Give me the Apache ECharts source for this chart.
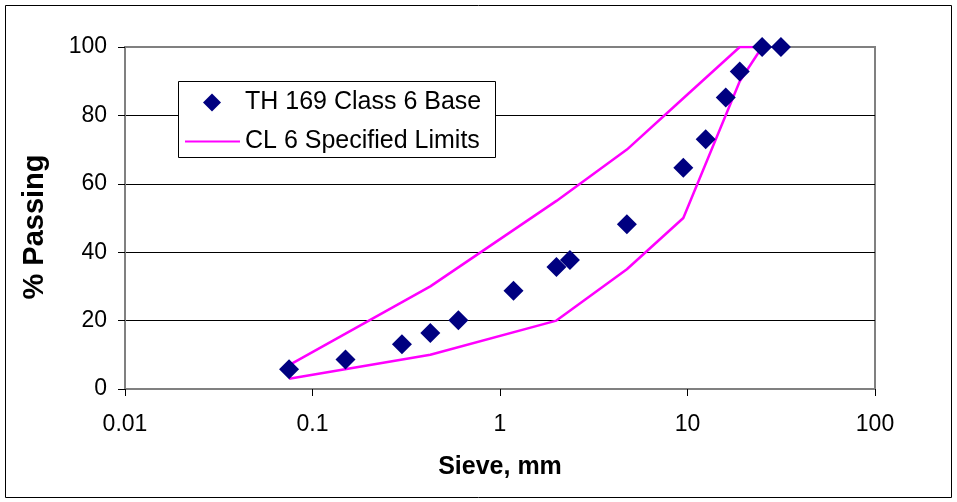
<!DOCTYPE html>
<html>
<head>
<meta charset="utf-8">
<script src="https://cdn.jsdelivr.net/npm/echarts@6/dist/echarts.min.js"></script>
<style>
  html, body { margin: 0; padding: 0; background: #fff; }
  #chart { width: 957px; height: 502px; }
</style>
</head>
<body>
<div id="chart"></div>
<script>
// sieve sizes (mm) and % passing for the tested sample
const sampleSieves = [0.075, 0.15, 0.3, 0.425, 0.6, 1.18, 2.0, 2.36, 4.75, 9.5, 12.5, 16, 19, 25, 31.5];
const samplePassing = [5.8, 8.6, 13.1, 16.4, 20.1, 28.7, 35.7, 37.7, 48.2, 64.7, 73, 85.2, 92.8, 100, 100];

// CL 6 specified band
const limitSieves = [0.075, 0.425, 2.0, 4.75, 9.5, 19, 25];
const upperLimit = [7, 30, 55, 70, 85, 100, 100];
const lowerLimit = [3, 10, 20, 35, 50, 90, 100];

const xTickLabels = ["0.01", "0.1", "1", "10", "100"];

const font = "Liberation Sans, Arial, sans-serif";

function pairs(xs, ys) {
  return xs.map((x, i) => [x, ys[i]]);
}

const chart = echarts.init(document.getElementById("chart"));

const legendText = { fontSize: 25, color: "#000", fontFamily: font };

chart.setOption({
  animation: false,
  backgroundColor: "#fff",
  textStyle: { fontFamily: font },
  graphic: [
    {
      type: "rect",
      shape: { x: 5.5, y: 5.5, width: 946, height: 492 },
      style: { fill: "none", stroke: "#000", lineWidth: 1 },
      z: -1
    },
    {
      // legend frame
      type: "rect",
      shape: { x: 178.5, y: 81.5, width: 317, height: 76 },
      style: { fill: "#fff", stroke: "#000", lineWidth: 1 },
      z: 3
    }
  ],
  grid: {
    left: 125,
    right: 82,
    top: 47,
    bottom: 113,
    show: true,
    borderColor: "#808080",
    borderWidth: 2
  },
  legend: [
    {
      orient: "vertical",
      left: 203,
      top: 90,
      padding: 0,
      itemWidth: 18,
      itemHeight: 18,
      icon: "diamond",
      textStyle: Object.assign({ padding: [0, 0, 0, 19] }, legendText),
      data: ["TH 169 Class 6 Base"]
    },
    {
      orient: "vertical",
      left: 185,
      top: 129,
      padding: 0,
      itemWidth: 55,
      itemHeight: 2,
      icon: "rect",
      textStyle: legendText,
      data: ["CL 6 Specified Limits"]
    }
  ],
  xAxis: {
    type: "log",
    logBase: 10,
    min: 0.01,
    max: 100,
    name: "Sieve, mm",
    nameLocation: "middle",
    nameGap: 66,
    nameTextStyle: { fontSize: 25, fontWeight: "bold", color: "#000", fontFamily: font },
    axisLine: { lineStyle: { color: "#808080", width: 2 } },
    axisTick: { show: true, inside: false, length: 7, lineStyle: { color: "#000", width: 1 } },
    minorTick: { show: false },
    splitLine: { show: false },
    axisLabel: {
      margin: 24,
      fontSize: 23,
      color: "#000",
      fontFamily: font,
      formatter: function (v) {
        return xTickLabels[Math.round(Math.log10(v)) + 2];
      }
    }
  },
  yAxis: {
    type: "value",
    min: 0,
    max: 100,
    interval: 20,
    name: "% Passing",
    nameLocation: "middle",
    nameGap: 76,
    nameTextStyle: {
      fontSize: 29,
      fontWeight: "bold",
      color: "#000",
      fontFamily: font,
      padding: [0, 18, 0, 0]
    },
    axisLine: { show: true, lineStyle: { color: "#808080", width: 2 } },
    axisTick: { show: true, inside: false, length: 7, lineStyle: { color: "#000", width: 1 } },
    splitLine: {
      show: true,
      lineStyle: { color: ["#000", "#000", "#000", "#000", "#000", "#808080"], width: 1 }
    },
    axisLabel: { margin: 18, fontSize: 23, color: "#000", fontFamily: font }
  },
  series: [
    {
      name: "CL 6 Specified Limits",
      type: "line",
      data: pairs(limitSieves, upperLimit),
      symbol: "none",
      lineStyle: { color: "#ff00ff", width: 2.5 },
      itemStyle: { color: "#ff00ff" },
      z: 2
    },
    {
      name: "CL 6 Specified Limits",
      type: "line",
      data: pairs(limitSieves, lowerLimit),
      symbol: "none",
      lineStyle: { color: "#ff00ff", width: 2.5 },
      itemStyle: { color: "#ff00ff" },
      z: 2
    },
    {
      name: "TH 169 Class 6 Base",
      type: "scatter",
      data: pairs(sampleSieves, samplePassing),
      symbol: "diamond",
      symbolSize: 20,
      itemStyle: { color: "#000080", opacity: 1 },
      z: 3
    }
  ]
});
</script>
</body>
</html>
